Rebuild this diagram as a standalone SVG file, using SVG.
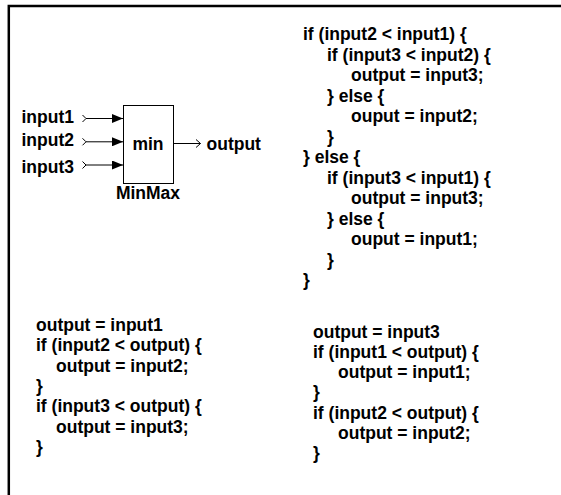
<svg xmlns="http://www.w3.org/2000/svg" width="561" height="495" viewBox="0 0 561 495">
  <style>
    text { font-family: "Liberation Sans", Arial, sans-serif; font-weight: bold; font-size: 17.5px; fill: #000; }
    .frame { fill: none; stroke: #000; stroke-width: 2.5; }
    .wire { fill: none; stroke: #000; stroke-width: 1; }
    .block { fill: #fff; stroke: #000; stroke-width: 1; }
  </style>
  <defs>
    <marker id="solid" viewBox="0 0 11 9" refX="11" refY="4.5" markerWidth="11" markerHeight="9" markerUnits="userSpaceOnUse" orient="auto">
      <path d="M0,0 L11,4.5 L0,9 Z" fill="#000"/>
    </marker>
    <marker id="open" viewBox="0 0 6 10" refX="5" refY="5" markerWidth="6" markerHeight="10" markerUnits="userSpaceOnUse" orient="auto">
      <path d="M0.5,1 L5,5 L0.5,9" fill="none" stroke="#000" stroke-width="1"/>
    </marker>
  </defs>

  <rect x="0" y="0" width="561" height="495" fill="#fff"/>
  <!-- page frame: top and left edges -->
  <path class="frame" d="M8.8,495 L8.8,6 L561,6"/>

  <!-- MinMax block -->
  <g id="minmax">
    <rect class="block" x="123.5" y="105.5" width="50" height="78"/>
    <text x="148" y="150" text-anchor="middle">min</text>
    <text x="148" y="198.5" text-anchor="middle">MinMax</text>
  </g>

  <g id="input1">
    <text x="21.5" y="122.5">input1</text>
  </g>
  <g id="input2">
    <text x="21.5" y="146">input2</text>
  </g>
  <g id="input3">
    <text x="21.5" y="172.5">input3</text>
  </g>
  <g id="output">
    <text x="206.5" y="150">output</text>
  </g>

  <!-- signal lines -->
  <g id="connectors">
    <g class="wire">
      <path d="M82.5,115 L86,118.5 L82.5,122"/>
      <path d="M82.5,138.3 L86,141.8 L82.5,145.3"/>
      <path d="M82.5,161.5 L86,165 L82.5,168.5"/>
    </g>
    <line class="wire" x1="86" y1="118.5" x2="123" y2="118.5" marker-end="url(#solid)"/>
    <line class="wire" x1="86" y1="141.8" x2="123" y2="141.8" marker-end="url(#solid)"/>
    <line class="wire" x1="86" y1="165" x2="123" y2="165" marker-end="url(#solid)"/>
    <line class="wire" x1="174" y1="143.5" x2="200.5" y2="143.5" marker-end="url(#open)"/>
  </g>

  <!-- nested if/else form -->
  <g id="code-nested">
    <text x="303" y="40">if (input2 &lt; input1) {</text>
    <text x="327" y="60.5">if (input3 &lt; input2) {</text>
    <text x="351" y="81">output = input3;</text>
    <text x="327" y="101.5">} else {</text>
    <text x="351" y="122">ouput = input2;</text>
    <text x="327" y="142.5">}</text>
    <text x="303" y="163">} else {</text>
    <text x="327" y="183.5">if (input3 &lt; input1) {</text>
    <text x="351" y="204">output = input3;</text>
    <text x="327" y="224.5">} else {</text>
    <text x="351" y="245">ouput = input1;</text>
    <text x="327" y="265.5">}</text>
    <text x="303" y="286">}</text>
  </g>

  <!-- sequential form starting from input1 -->
  <g id="code-seq1">
    <text x="36" y="331">output = input1</text>
    <text x="36" y="351.3">if (input2 &lt; output) {</text>
    <text x="56" y="371.6">output = input2;</text>
    <text x="36" y="391.9">}</text>
    <text x="36" y="412.2">if (input3 &lt; output) {</text>
    <text x="56" y="432.5">output = input3;</text>
    <text x="36" y="452.8">}</text>
  </g>

  <!-- sequential form starting from input3 -->
  <g id="code-seq3">
    <text x="313" y="337.5">output = input3</text>
    <text x="313" y="357.8">if (input1 &lt; output) {</text>
    <text x="338" y="378.1">output = input1;</text>
    <text x="313" y="398.4">}</text>
    <text x="313" y="418.7">if (input2 &lt; output) {</text>
    <text x="338" y="439">output = input2;</text>
    <text x="313" y="459.3">}</text>
  </g>
</svg>
